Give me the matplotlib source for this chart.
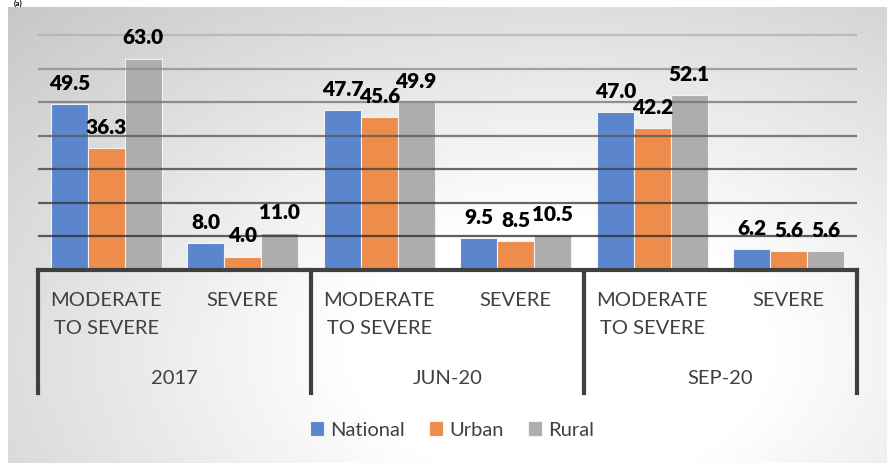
import matplotlib.pyplot as plt
import matplotlib.transforms as mtransforms
import numpy as np

# data
periods = ["2017", "JUN-20", "SEP-20"]
levels = ["MODERATE\nTO SEVERE", "SEVERE"]
series = ["National", "Urban", "Rural"]
national = [49.5, 8.0, 47.7, 9.5, 47.0, 6.2]
urban = [36.3, 4.0, 45.6, 8.5, 42.2, 5.6]
rural = [63.0, 11.0, 49.9, 10.5, 52.1, 5.6]
colors = ["#5b86cd", "#ee8c4c", "#adadad"]

plt.rcParams['font.family'] = ['Lato', 'DejaVu Sans']

W, H = 891, 463
fig = plt.figure(figsize=(W / 100, H / 100), dpi=100)

# gradient background (chart area of the screenshot)
bg = fig.add_axes([0, 0, 1, 1], zorder=-10)
bg.set_xlim(0, W)
bg.set_ylim(H, 0)
bg.axis("off")
xx, yy = np.meshgrid(np.linspace(0, W, 300), np.linspace(0, H, 160))
r = np.sqrt(((xx - 560) / 520) ** 2 + ((yy - 350) / 330) ** 2)
shade = np.clip(1.08 - 0.2 * r, 0.77, 1.0)
bg.imshow(shade, cmap="gray", vmin=0, vmax=1, extent=[8, 887, H, 7], aspect="auto")
bg.text(14, 0, "(a)", fontsize=6, fontweight="bold", va="top", ha="left")

x0, x1 = 38, 857
y_base, y_top = 270, 28.3
ax = fig.add_axes([x0 / W, 1 - y_base / H, (x1 - x0) / W, (y_base - y_top) / H])
ax.patch.set_alpha(0)
for s in ax.spines.values():
    s.set_visible(False)

x = np.arange(len(national))
bw = 0.27
for i, (vals, c) in enumerate(zip([national, urban, rural], colors)):
    pos = x + (i - 1) * bw
    ax.bar(pos, vals, bw, color=c, edgecolor="#f2f2f2", linewidth=0.8, zorder=2, label=series[i])
    for px, v in zip(pos, vals):
        ax.annotate(f"{v:.1f}", (px, v), xytext=(0, 8), textcoords="offset points",
                    ha="center", va="bottom", fontsize=15, fontweight="heavy", color="black", zorder=5)

ax.set_xlim(-0.5, 5.5)
ax.set_ylim(0, 72)
ax.set_xticks([])
ax.set_yticks([])
grid_cols = ["#2a2a2a", "#333333", "#3c3c3c", "#555555", "#707070", "#8a8a8a", "#b0b0b0"]
for k, gy in enumerate(range(10, 71, 10)):
    ax.axhline(gy, color=grid_cols[k], lw=1.6, alpha=0.75, zorder=3)

# multi-level category axis
ax.axhline(0, color="#404040", lw=3, zorder=4, clip_on=False)
tr = mtransforms.blended_transform_factory(ax.transData, fig.transFigure)
y_bot = 1 - 393 / H
for bx in [-0.5, 1.5, 3.5, 5.5]:
    ax.plot([bx, bx], [1 - y_base / H, y_bot], color="#404040", lw=3, transform=tr,
            clip_on=False, solid_capstyle="projecting")
for i in range(len(national)):
    ax.text(i, 1 - 292 / H, levels[i % 2], transform=tr, ha="center", va="top",
            fontsize=14.5, color="#404040", linespacing=1.75)
for j, p in enumerate(periods):
    ax.text(2 * j + 0.5, 1 - 378 / H, p, transform=tr, ha="center", va="center",
            fontsize=14.5, color="#404040")

leg = fig.legend(loc="center", bbox_to_anchor=(452 / W, 1 - 430 / H), ncol=3, frameon=False,
                 fontsize=14.5, handlelength=0.7, handleheight=0.7, handletextpad=0.3,
                 columnspacing=1.2, labelcolor="#404040")

fig.savefig("out.png", dpi=100)
